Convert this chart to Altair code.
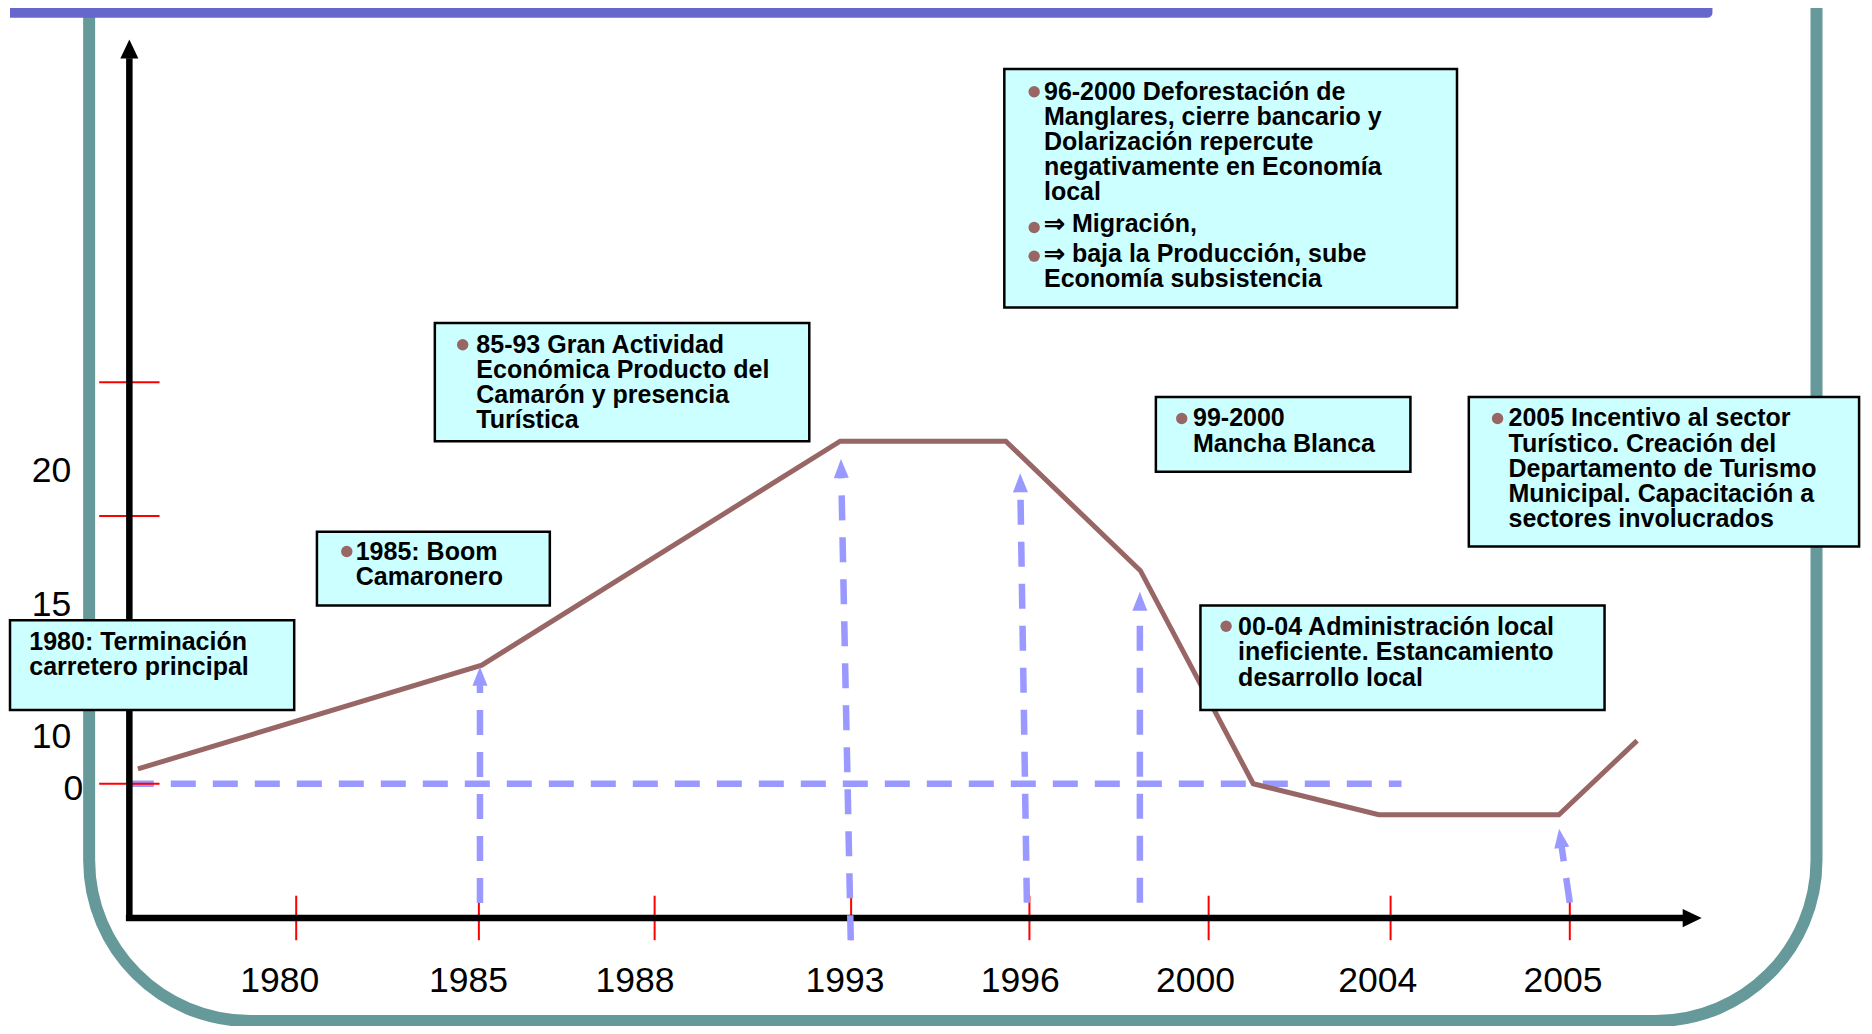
import math
import altair as alt
import pandas as pd

# ---------------------------------------------------------------
# Coordinate system: horizontal = time slots (1980 tick = 0, one slot per
# labelled year), vertical = schematic activity level (0 = dashed base line)
# ---------------------------------------------------------------
X_DOMAIN = [-1.573, 8.617]
Y_DOMAIN = [-8.98, 28.76]
PX_PER_S = 183.7
PX_PER_V = 27.4

# main series (economic activity curve)
line_s = [-0.87, 1.02, 2.99, 3.90, 4.64, 5.26, 5.95, 6.94, 7.37]
line_v = [0.55, 4.40, 12.70, 12.70, 7.90, 0.00, -1.15, -1.15, 1.60]

# x-axis ticks and labels
year_labels = ["1980", "1985", "1988", "1993", "1996", "2000", "2004", "2005"]
year_tick_s = [0.0, 1.004, 1.97, 3.05, 4.03, 5.015, 6.015, 7.0]
year_label_s = [-0.09, 0.947, 1.862, 3.016, 3.979, 4.943, 5.945, 6.962]
year_label_v = -7.30
tick_v_top, tick_v_bottom = -4.15, -5.80

# y-axis labels and ticks
level_labels = ["20", "15", "10", "0"]
level_label_v = [11.61, 6.61, 1.75, -0.18]
level_label_s = [-1.236, -1.236, -1.236, -1.170]
level_tick_v = [14.89, 9.93, 0.0]
level_tick_s = [-1.083, -0.751]

# axis lines
yaxis_s = -0.917
yaxis_v = [-5.09, 26.90]
yaxis_tip_v = 27.59
xaxis_v = -4.98
xaxis_s = [-0.936, 7.627]
xaxis_tip_s = 7.725

# dashed base line
base_s = [-0.92, 6.075]
base_v = 0.0

# event arrows (dashed, from the time axis up to the curve)
arrow_bottom_s = [1.01, 3.048, 4.016, 4.637, 7.000]
arrow_bottom_v = [-4.42, -5.80, -4.41, -4.41, -4.41]
arrow_tip_s = [1.01, 2.994, 3.979, 4.637, 6.941]
arrow_tip_v = [4.34, 12.04, 11.51, 7.12, -1.67]

# annotation boxes
box_x1 = [-1.573, 0.114, 0.762, 3.892, 4.725, 6.445, 4.970]
box_x2 = [-0.011, 1.394, 2.820, 6.380, 6.124, 8.590, 7.191]
box_top = [6.058, 9.343, 17.08, 26.50, 14.34, 14.34, 6.606]
box_bottom = [2.737, 6.606, 12.70, 17.66, 11.57, 8.80, 2.737]

bullet_s = [0.278, 0.915, 4.056, 4.056, 4.056, 4.867, 6.603, 5.111]
bullet_v = [8.613, 16.277, 25.657, 20.62, 19.56, 13.54, 13.54, 5.839]

# annotation paragraphs (one per bullet, lines separated by \n)
paragraphs = [
    "1980: Terminación\ncarretero principal",
    "1985: Boom\nCamaronero",
    "85-93 Gran Actividad\nEconómica Producto del\nCamarón y presencia\nTurística",
    "96-2000 Deforestación de\nManglares, cierre bancario y\nDolarización repercute\nnegativamente en Economía\nlocal",
    "⇒ Migración,",
    "⇒ baja la Producción, sube\nEconomía subsistencia",
    "99-2000\nMancha Blanca",
    "2005 Incentivo al sector\nTurístico. Creación del\nDepartamento de Turismo\nMunicipal. Capacitación a\nsectores involucrados",
    "00-04 Administración local\nineficiente. Estancamiento\ndesarrollo local",
]
para_s = [-1.467, 0.327, 0.990, 4.110, 4.110, 4.110, 4.929, 6.663, 5.177]
para_v = [4.964, 8.285, 15.985, 25.365, 20.438, 19.343, 13.248, 13.248, 5.511]

# slide decoration (frame and title bar)
frame_s = [-1.138, 8.356]
frame_v = [31.0, -8.796]
bar_s = [-1.573, 7.784]
bar_v = [28.76, 28.40]

# colours
TEAL = "#669999"
PURPLE = "#6666CC"
CYAN = "#CCFFFF"
BROWN = "#996666"
LILAC = "#9999FF"
RED = "#FF0000"
FONT = "Liberation Sans"

ARROW_PATH = "M0,0L0.79,2L-0.79,2Z"


def X(f):
    return alt.X(f, type="quantitative", scale=alt.Scale(domain=X_DOMAIN, nice=False, zero=False), axis=None)


def Y(f):
    return alt.Y(f, type="quantitative", scale=alt.Scale(domain=Y_DOMAIN, nice=False, zero=False), axis=None)


def X2(f):
    return alt.X2(f)


def Y2(f):
    return alt.Y2(f)


# ---- frame
frame_df = pd.DataFrame({"s": [frame_s[0]], "s2": [frame_s[1]], "v": [frame_v[0]], "v2": [frame_v[1]]})
frame = alt.Chart(frame_df).mark_rect(
    stroke=TEAL, strokeWidth=12, fillOpacity=0, clip=True,
    cornerRadiusBottomLeft=161, cornerRadiusBottomRight=161,
).encode(x=X("s"), x2=X2("s2"), y=Y("v"), y2=Y2("v2"))

bar_df = pd.DataFrame({"s": [bar_s[0]], "s2": [bar_s[1]], "v": [bar_v[0]], "v2": [bar_v[1]]})
bar = alt.Chart(bar_df).mark_rect(color=PURPLE, cornerRadiusBottomRight=9, clip=True).encode(
    x=X("s"), x2=X2("s2"), y=Y("v"), y2=Y2("v2"))

# ---- dashed base line
base_df = pd.DataFrame({"s": [base_s[0]], "s2": [base_s[1]], "v": [base_v], "v2": [base_v]})
base = alt.Chart(base_df).mark_rule(color=LILAC, strokeWidth=6.5, strokeDash=[25, 17]).encode(
    x=X("s"), x2=X2("s2"), y=Y("v"), y2=Y2("v2"))

# ---- red ticks
ytick_df = pd.DataFrame({"s": [level_tick_s[0]] * 3, "s2": [level_tick_s[1]] * 3, "v": level_tick_v})
yticks = alt.Chart(ytick_df).mark_rule(color=RED, strokeWidth=2).encode(
    x=X("s"), x2=X2("s2"), y=Y("v"))
xtick_df = pd.DataFrame({"s": year_tick_s, "v": [tick_v_top] * 8, "v2": [tick_v_bottom] * 8})
xticks = alt.Chart(xtick_df).mark_rule(color=RED, strokeWidth=2).encode(
    x=X("s"), y=Y("v"), y2=Y2("v2"))

# ---- axes
yax_df = pd.DataFrame({"s": [yaxis_s], "v": [yaxis_v[0]], "v2": [yaxis_v[1]]})
yax = alt.Chart(yax_df).mark_rule(color="black", strokeWidth=6.5).encode(x=X("s"), y=Y("v"), y2=Y2("v2"))
xax_df = pd.DataFrame({"s": [xaxis_s[0]], "s2": [xaxis_s[1]], "v": [xaxis_v]})
xax = alt.Chart(xax_df).mark_rule(color="black", strokeWidth=6.5).encode(x=X("s"), x2=X2("s2"), y=Y("v"))
axtip_df = pd.DataFrame({"s": [yaxis_s, xaxis_tip_s], "v": [yaxis_tip_v, xaxis_v], "ang": [0, 90]})
axtips = alt.Chart(axtip_df).mark_point(shape="M0,0L0.95,2L-0.95,2Z", filled=True, opacity=1,
                                       size=361, color="black").encode(
    x=X("s"), y=Y("v"), angle=alt.Angle("ang:Q", scale=None))

# ---- event arrows
shaft_top_v = [tv - 0.55 for tv in arrow_tip_v]
shaft_top_s = [ts + (bs - ts) * 0.55 / (tv - bv) for ts, bs, tv, bv in
               zip(arrow_tip_s, arrow_bottom_s, arrow_tip_v, arrow_bottom_v)]
shaft_df = pd.DataFrame({"s": arrow_bottom_s, "v": arrow_bottom_v, "s2": shaft_top_s, "v2": shaft_top_v})
shafts = alt.Chart(shaft_df).mark_rule(color=LILAC, strokeWidth=6.5, strokeDash=[25, 17]).encode(
    x=X("s"), y=Y("v"), x2=X2("s2"), y2=Y2("v2"))
angles = []
for ts, bs, tv, bv in zip(arrow_tip_s, arrow_bottom_s, arrow_tip_v, arrow_bottom_v):
    dx = (ts - bs) * PX_PER_S
    dy = (tv - bv) * PX_PER_V
    angles.append(math.degrees(math.atan2(dx, dy)) % 360)
head_df = pd.DataFrame({"s": arrow_tip_s, "v": arrow_tip_v, "ang": angles})
heads = alt.Chart(head_df).mark_point(shape=ARROW_PATH, filled=True, opacity=1, size=361, color=LILAC).encode(
    x=X("s"), y=Y("v"), angle=alt.Angle("ang:Q", scale=None))

# ---- curve
curve_df = pd.DataFrame({"s": line_s, "v": line_v, "o": list(range(len(line_s)))})
curve = alt.Chart(curve_df).mark_line(color=BROWN, strokeWidth=5).encode(
    x=X("s"), y=Y("v"), order="o:O")

# ---- labels
xlab_df = pd.DataFrame({"s": year_label_s, "v": [year_label_v] * 8, "t": year_labels})
xlabels = alt.Chart(xlab_df).mark_text(font=FONT, fontSize=35.5, align="center", baseline="middle",
                                       color="black").encode(x=X("s"), y=Y("v"), text="t:N")
ylab_df = pd.DataFrame({"s": level_label_s, "v": level_label_v, "t": level_labels})
ylabels = alt.Chart(ylab_df).mark_text(font=FONT, fontSize=35.5, align="right", baseline="middle",
                                       color="black").encode(x=X("s"), y=Y("v"), text="t:N")

# ---- boxes
box_df = pd.DataFrame({"s": box_x1, "s2": box_x2, "v": box_top, "v2": box_bottom})
boxes = alt.Chart(box_df).mark_rect(fill=CYAN, stroke="black", strokeWidth=2.5).encode(
    x=X("s"), x2=X2("s2"), y=Y("v"), y2=Y2("v2"))
bul_df = pd.DataFrame({"s": bullet_s, "v": bullet_v})
bullets = alt.Chart(bul_df).mark_point(shape="circle", filled=True, opacity=1, size=130, color=BROWN).encode(
    x=X("s"), y=Y("v"))
txt_df = pd.DataFrame({"s": para_s, "v": para_v, "t": paragraphs})
texts = alt.Chart(txt_df).mark_text(font=FONT, fontWeight="bold", fontSize=25, align="left",
                                    baseline="alphabetic", lineBreak="\n", lineHeight=25.2,
                                    color="black").encode(
    x=X("s"), y=Y("v"), text="t:N")

chart = alt.layer(
    frame, bar, base, yticks, xticks, yax, xax, axtips, shafts, curve, heads,
    xlabels, ylabels, boxes, bullets, texts,
).properties(
    width=1856, height=1018,
    autosize=alt.AutoSizeParams(type="fit", contains="padding"),
    padding=0, background="white",
).configure_view(stroke=None)

chart.save("out.html", embed_options={"renderer": "svg", "actions": False})
